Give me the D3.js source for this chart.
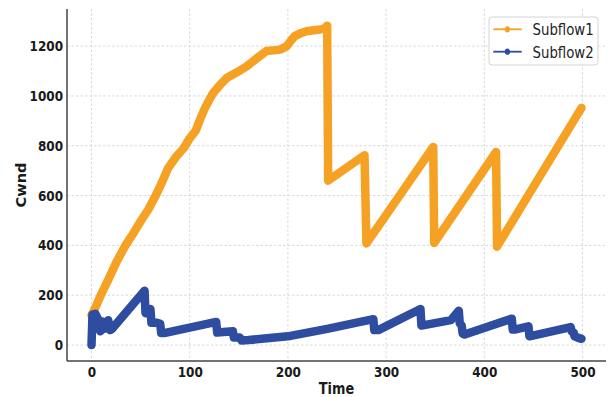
<!DOCTYPE html>
<html>
<head>
<meta charset="utf-8">
<script src="https://cdn.jsdelivr.net/npm/d3@7"></script>
<style>
  html, body { margin: 0; padding: 0; background: #fff; }
  svg { display: block; }
</style>
</head>
<body>
<svg id="chart" width="610" height="397"></svg>
<script>
// ---- data ----
const seriesNames = ["Subflow1", "Subflow2"];
const seriesColors = ["#F5A123", "#2E4CA0"];

const s1Time = [0, 2, 5, 10, 17, 25, 34, 42, 51, 58, 65, 72, 78, 86, 94, 100, 106, 111, 116, 120, 124, 131, 138, 148, 158, 168, 178, 185, 192, 199, 203, 207, 213, 219, 226, 233, 237, 240, 241, 278, 280, 348, 349, 412, 413, 499];
const s1Cwnd = [120, 135, 160, 205, 262, 330, 396, 445, 503, 545, 597, 655, 710, 755, 791, 830, 860, 910, 955, 985, 1012, 1045, 1073, 1095, 1119, 1150, 1180, 1183, 1186, 1200, 1222, 1240, 1252, 1260, 1264, 1267, 1270, 1282, 660, 762, 408, 795, 410, 775, 395, 952];

const s2Time = [0, 1, 4, 6, 9, 11, 13, 15, 17, 19, 21, 54, 55, 60, 61, 66, 70, 71, 74, 127, 128, 144, 145, 151, 153, 160, 200, 240, 287, 288, 292, 335, 336, 366, 374, 375, 377, 378, 380, 428, 429, 431, 445, 446, 488, 489, 491, 492, 495, 499];
const s2Cwnd = [0, 122, 125, 110, 55, 95, 65, 75, 100, 60, 65, 218, 128, 145, 90, 90, 85, 48, 48, 93, 50, 55, 30, 30, 18, 20, 35, 65, 104, 60, 60, 145, 78, 100, 138, 88, 78, 45, 42, 106, 62, 62, 75, 35, 72, 55, 50, 35, 30, 25];

const xTicks = [0, 100, 200, 300, 400, 500];
const yTicks = [0, 200, 400, 600, 800, 1000, 1200];
const xLabel = "Time";
const yLabel = "Cwnd";

// ---- layout ----
const svg = d3.select("#chart");
const mLeft = 67, mRight = 606, mTop = 9, mBottom = 361;
const SQ = 0.86; // horizontal squash of text in the reference

const x = d3.scaleLinear().domain([-24.95, 523.95]).range([mLeft, mRight]);
const y = d3.scaleLinear().domain([-64, 1349]).range([mBottom, mTop]);

// grid
const grid = svg.append("g");
grid.selectAll("line.gx").data(xTicks).join("line")
  .attr("x1", d => x(d)).attr("x2", d => x(d))
  .attr("y1", mTop).attr("y2", mBottom)
  .attr("stroke", "#cfcfcf").attr("stroke-width", 0.8).attr("stroke-dasharray", "2.5,2");
grid.selectAll("line.gy").data(yTicks).join("line")
  .attr("x1", mLeft).attr("x2", mRight)
  .attr("y1", d => y(d)).attr("y2", d => y(d))
  .attr("stroke", "#cfcfcf").attr("stroke-width", 0.8).attr("stroke-dasharray", "2.5,2");

// lines
const line = d3.line().x(d => x(d[0])).y(d => y(d[1]));
const s1 = s1Time.map((t, i) => [t, s1Cwnd[i]]);
const s2 = s2Time.map((t, i) => [t, s2Cwnd[i]]);
[s1, s2].forEach((data, i) => {
  svg.append("path").datum(data)
    .attr("d", line)
    .attr("fill", "none")
    .attr("stroke", seriesColors[i])
    .attr("stroke-width", 8.5)
    .attr("stroke-linejoin", "round")
    .attr("stroke-linecap", "round");
});

// axes
const fontTick = "DejaVu Sans, sans-serif";
const xAxis = svg.append("g").attr("transform", `translate(0,${mBottom})`)
  .call(d3.axisBottom(x).tickValues(xTicks).tickSize(0).tickPadding(6).tickFormat(d3.format("d")));
const yAxis = svg.append("g").attr("transform", `translate(${mLeft},0)`)
  .call(d3.axisLeft(y).tickValues(yTicks).tickSize(0).tickPadding(4 / SQ).tickFormat(d3.format("d")));
[xAxis, yAxis].forEach(g => {
  g.select(".domain").remove();
  g.selectAll("text")
    .attr("font-family", fontTick)
    .attr("font-weight", "bold")
    .attr("font-size", 14)
    .attr("fill", "#1a1a1a")
    .attr("transform", `scale(${SQ},1)`);
});

// spines
svg.append("line").attr("x1", mLeft).attr("x2", mLeft).attr("y1", mTop).attr("y2", mBottom)
  .attr("stroke", "#444").attr("stroke-width", 1.5);
svg.append("line").attr("x1", mLeft).attr("x2", mRight).attr("y1", mBottom).attr("y2", mBottom)
  .attr("stroke", "#444").attr("stroke-width", 1.5);

// axis labels
svg.append("text")
  .attr("transform", `translate(${(mLeft + mRight) / 2},394) scale(${SQ},1)`)
  .attr("text-anchor", "middle")
  .attr("font-family", fontTick).attr("font-weight", "bold").attr("font-size", 15)
  .attr("fill", "#1a1a1a")
  .text(xLabel);
svg.append("text")
  .attr("transform", `translate(25.5,${(mTop + mBottom) / 2}) rotate(-90)`)
  .attr("text-anchor", "middle")
  .attr("font-family", fontTick).attr("font-weight", "bold").attr("font-size", 14.5)
  .attr("fill", "#1a1a1a")
  .text(yLabel);

// legend
const lg = svg.append("g");
lg.append("rect").attr("x", 489).attr("y", 17).attr("width", 109).attr("height", 48)
  .attr("rx", 3).attr("fill", "#fff").attr("fill-opacity", 0.85)
  .attr("stroke", "#d4d4d4").attr("stroke-width", 1);
seriesNames.forEach((name, i) => {
  const cy = 29.3 + i * 22.4;
  lg.append("line").attr("x1", 493.3).attr("x2", 521.7).attr("y1", cy).attr("y2", cy)
    .attr("stroke", seriesColors[i]).attr("stroke-width", 1.8);
  lg.append("ellipse").attr("cx", 507.5).attr("cy", cy).attr("rx", 2.7).attr("ry", 3.1)
    .attr("fill", seriesColors[i]);
  lg.append("text")
    .attr("transform", `translate(532.5,${cy + 6}) scale(${SQ},1)`)
    .attr("font-family", fontTick).attr("font-size", 15.5).attr("fill", "#222")
    .text(name);
});
</script>
</body>
</html>
